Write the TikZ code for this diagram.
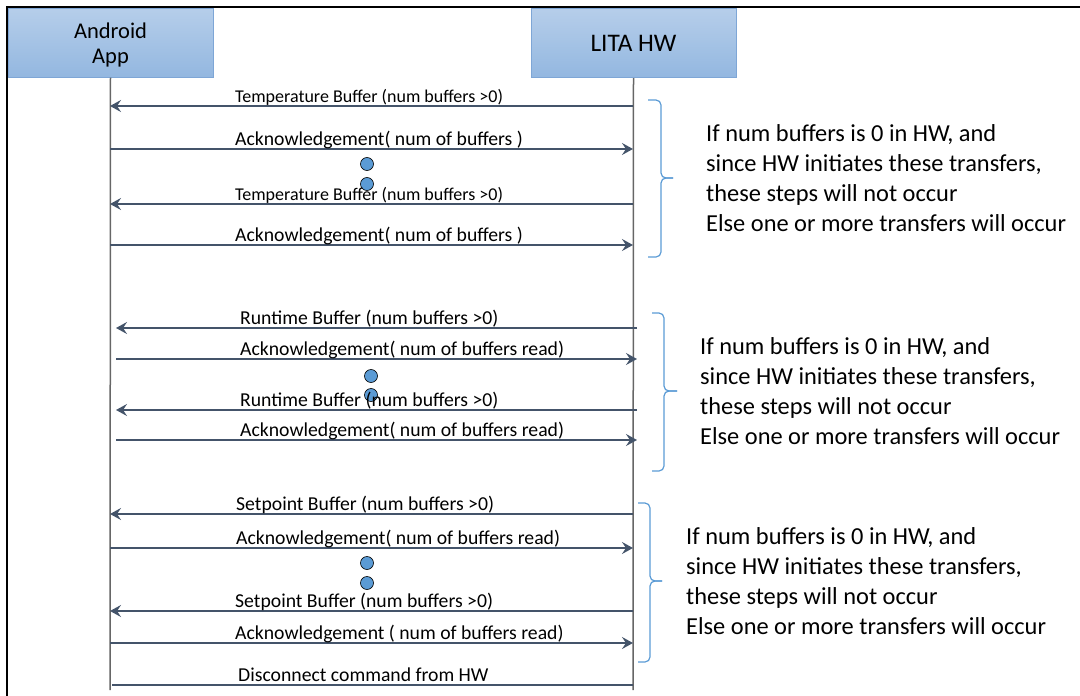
\documentclass[tikz,border=0pt]{standalone}
\usepackage{fontspec}
\setmainfont{Carlito}
\usepackage{tikz}
\usetikzlibrary{arrows.meta}
\definecolor{boxtop}{HTML}{B6CEEA}
\definecolor{boxbot}{HTML}{93B7E0}
\definecolor{boxline}{HTML}{7EA6D6}
\definecolor{msgcol}{HTML}{44546A}
\definecolor{dotcol}{HTML}{5B9BD5}
\tikzset{
 actor/.style={draw=boxline,line width=1pt,top color=boxtop,bottom color=boxbot,minimum width=205pt,minimum height=69pt,align=center,font=\fontsize{22.5}{25}\selectfont},
 life/.style={draw=black!60,line width=1.5pt},
 msg/.style={draw=msgcol,line width=2pt,-{Stealth[length=11pt,width=12pt,inset=4pt]}},
 lbl/.style={anchor=base west,inner sep=0pt,font=\fontsize{19.7}{22}\selectfont},
 small/.style={font=\fontsize{18}{21}\selectfont},
 dot/.style={circle,draw=black,line width=0.6pt,fill=dotcol,minimum width=12pt,minimum height=13pt,inner sep=0pt},
 brc/.style={draw=dotcol,line width=1.2pt,rounded corners=5pt},
 note/.style={anchor=west,inner sep=0pt,align=left,font=\fontsize{24.4}{30}\selectfont}
}
\begin{document}
\begin{tikzpicture}[x=1pt,y=-1pt]
\useasboundingbox (0,0) rectangle (1080,696);
\draw[line width=2.5pt](1080,7)-|(7,696);
\node[actor,label={[align=center,font=\fontsize{22.5}{25}\selectfont,yshift=-3pt]center:Android\\App}](app) at (110.5,42.5){};
\node[actor,font=\fontsize{25.3}{28}\selectfont](hw) at (633.5,43){LITA HW};
\coordinate (append) at (110,690);
\coordinate (hwend) at (633,690);
\draw[life](app.south)--(append);
\draw[life](hw.south)--(hwend);
\foreach \n/\y in {1/106,2/149,3/204,4/245,9/514,10/548,11/611,12/643}{
\coordinate (a\n) at (110,\y);
\coordinate (h\n) at (633,\y);}
\foreach \n/\y in {5/328,6/359,7/410,8/440}{
\coordinate (a\n) at (116,\y);
\coordinate (h\n) at (637,\y);}
\coordinate (a13) at (112,685);
\coordinate (h13) at (633,685);
\foreach \n/\x/\y in {1/367/164,2/367/184,3/371/376,4/371/395,5/367/563,6/367/583}
\node[dot](d\n) at (\x,\y){};
\draw[msg](h1)--(a1);
\draw[msg](a2)--(h2);
\draw[msg](h3)--(a3);
\draw[msg](a4)--(h4);
\draw[msg](h5)--(a5);
\draw[msg](a6)--(h6);
\draw[msg](h7)--(a7);
\draw[msg](a8)--(h8);
\draw[msg](h9)--(a9);
\draw[msg](a10)--(h10);
\draw[msg](h11)--(a11);
\draw[msg](a12)--(h12);
\draw[msg,-](a13)--(h13);
\node[lbl,small](l1) at (235,102){Temperature Buffer (num buffers {>}0)};
\node[lbl](l2) at (235,145){Acknowledgement( num of buffers )};
\node[lbl,small](l3) at (235,200){Temperature Buffer (num buffers {>}0)};
\node[lbl](l4) at (235,241){Acknowledgement( num of buffers )};
\node[lbl](l5) at (240,324){Runtime Buffer (num buffers {>}0)};
\node[lbl](l6) at (240,355){Acknowledgement( num of buffers read)};
\node[lbl](l7) at (240,406){Runtime Buffer (num buffers {>}0)};
\node[lbl](l8) at (240,436){Acknowledgement( num of buffers read)};
\node[lbl](l9) at (236,510){Setpoint Buffer (num buffers {>}0)};
\node[lbl](l10) at (236,544){Acknowledgement( num of buffers read)};
\node[lbl](l11) at (235,607){Setpoint Buffer (num buffers {>}0)};
\node[lbl](l12) at (235,639){Acknowledgement ( num of buffers read)};
\node[lbl](l13) at (238,681){Disconnect command from HW};
\draw[brc](648,100)-|(661,178)--(673,178);
\draw[brc](673,178)--(661,178)|-(648,257);
\draw[brc](652,313)-|(664,391)--(677,391);
\draw[brc](677,391)--(664,391)|-(652,471);
\draw[brc](638,503)-|(650,581)--(662,581);
\draw[brc](662,581)--(650,581)|-(638,662);
\node[note](n1) at (706,178){If num buffers is 0 in HW, and\\since HW initiates these transfers,\\these steps will not occur\\Else one or more transfers will occur};
\node[note](n2) at (700,391.5){If num buffers is 0 in HW, and\\since HW initiates these transfers,\\these steps will not occur\\Else one or more transfers will occur};
\node[note](n3) at (686,581.5){If num buffers is 0 in HW, and\\since HW initiates these transfers,\\these steps will not occur\\Else one or more transfers will occur};
\end{tikzpicture}
\end{document}
